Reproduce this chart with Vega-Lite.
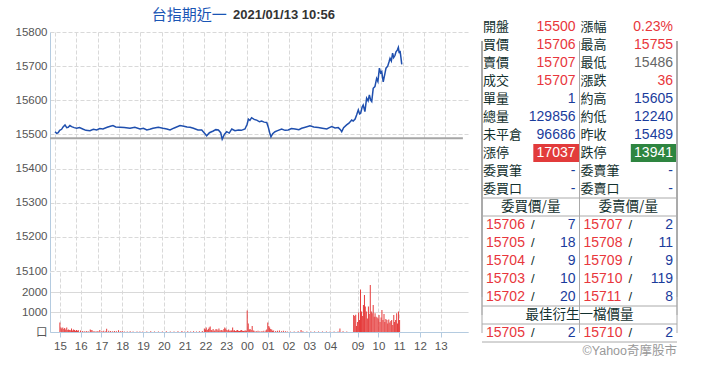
{
  "$schema": "https://vega.github.io/schema/vega-lite/v6.json",
  "background": "white",
  "padding": {"left": 5, "top": 7, "right": 0, "bottom": 0},
  "config": {"view": {"stroke": null}, "font": "Liberation Sans", "axis": {"labelFont": "Liberation Sans, Noto Sans CJK TC"}},
  "datasets": {
    "price": [
      {"h":0.00,"price":15508},{"h":0.08,"price":15503},{"h":0.15,"price":15505},{"h":0.22,"price":15512},{"h":0.31,"price":15515},{"h":0.38,"price":15522},{"h":0.47,"price":15528},{"h":0.55,"price":15520},{"h":0.62,"price":15521},{"h":0.70,"price":15526},{"h":0.78,"price":15523},{"h":0.90,"price":15520},{"h":1.02,"price":15518},{"h":1.15,"price":15520},{"h":1.33,"price":15515},{"h":1.45,"price":15512},{"h":1.64,"price":15511},{"h":1.80,"price":15515},{"h":1.96,"price":15513},{"h":2.10,"price":15517},{"h":2.25,"price":15516},{"h":2.45,"price":15521},{"h":2.60,"price":15524},{"h":2.72,"price":15526},{"h":2.85,"price":15522},{"h":3.05,"price":15521},{"h":3.25,"price":15520},{"h":3.52,"price":15518},{"h":3.75,"price":15521},{"h":3.99,"price":15516},{"h":4.15,"price":15518},{"h":4.31,"price":15513},{"h":4.45,"price":15515},{"h":4.60,"price":15518},{"h":4.85,"price":15521},{"h":5.07,"price":15518},{"h":5.25,"price":15516},{"h":5.40,"price":15513},{"h":5.60,"price":15519},{"h":5.87,"price":15526},{"h":6.05,"price":15524},{"h":6.20,"price":15522},{"h":6.34,"price":15521},{"h":6.50,"price":15518},{"h":6.71,"price":15513},{"h":6.89,"price":15513},{"h":7.00,"price":15505},{"h":7.12,"price":15496},{"h":7.25,"price":15505},{"h":7.43,"price":15510},{"h":7.55,"price":15514},{"h":7.67,"price":15513},{"h":7.78,"price":15505},{"h":7.85,"price":15486},{"h":7.95,"price":15500},{"h":8.06,"price":15508},{"h":8.18,"price":15504},{"h":8.30,"price":15516},{"h":8.45,"price":15511},{"h":8.61,"price":15513},{"h":8.75,"price":15512},{"h":8.92,"price":15516},{"h":9.02,"price":15530},{"h":9.08,"price":15545},{"h":9.15,"price":15541},{"h":9.23,"price":15549},{"h":9.35,"price":15544},{"h":9.47,"price":15542},{"h":9.60,"price":15537},{"h":9.70,"price":15539},{"h":9.82,"price":15536},{"h":9.94,"price":15535},{"h":10.01,"price":15522},{"h":10.08,"price":15505},{"h":10.14,"price":15493},{"h":10.22,"price":15502},{"h":10.33,"price":15508},{"h":10.45,"price":15511},{"h":10.64,"price":15516},{"h":10.80,"price":15512},{"h":10.95,"price":15513},{"h":11.10,"price":15517},{"h":11.27,"price":15516},{"h":11.45,"price":15514},{"h":11.58,"price":15518},{"h":11.75,"price":15521},{"h":11.97,"price":15525},{"h":12.15,"price":15522},{"h":12.36,"price":15520},{"h":12.55,"price":15518},{"h":12.76,"price":15516},{"h":12.88,"price":15520},{"h":12.99,"price":15523},{"h":13.15,"price":15519},{"h":13.30,"price":15520},{"h":13.40,"price":15514},{"h":13.46,"price":15508},{"h":13.55,"price":15520},{"h":13.69,"price":15528},{"h":13.80,"price":15533},{"h":13.93,"price":15542},{"h":14.00,"price":15539},{"h":14.09,"price":15545},{"h":14.16,"price":15557},{"h":14.24,"price":15572},{"h":14.30,"price":15560},{"h":14.35,"price":15562},{"h":14.42,"price":15580},{"h":14.47,"price":15586},{"h":14.55,"price":15567},{"h":14.63,"price":15606},{"h":14.70,"price":15598},{"h":14.76,"price":15616},{"h":14.82,"price":15600},{"h":14.87,"price":15596},{"h":14.94,"price":15635},{"h":15.02,"price":15640},{"h":15.10,"price":15664},{"h":15.16,"price":15655},{"h":15.23,"price":15694},{"h":15.29,"price":15680},{"h":15.34,"price":15684},{"h":15.41,"price":15654},{"h":15.47,"price":15672},{"h":15.54,"price":15694},{"h":15.62,"price":15700},{"h":15.68,"price":15712},{"h":15.73,"price":15723},{"h":15.79,"price":15715},{"h":15.85,"price":15738},{"h":15.90,"price":15725},{"h":15.96,"price":15731},{"h":16.01,"price":15742},{"h":16.07,"price":15747},{"h":16.12,"price":15755},{"h":16.16,"price":15738},{"h":16.20,"price":15745},{"h":16.23,"price":15731},{"h":16.28,"price":15705}
    ],
    "close": [{"close": 15489}],
    "heading": [{"name": "台指期近一", "stamp": "2021/01/13 10:56"}],
    "volume": [
      {"h":0.00,"vol":470},{"h":0.05,"vol":230},{"h":0.09,"vol":180},{"h":0.14,"vol":230},{"h":0.19,"vol":150},{"h":0.23,"vol":200},{"h":0.28,"vol":120},{"h":0.33,"vol":230},{"h":0.38,"vol":100},{"h":0.42,"vol":130},{"h":0.47,"vol":100},{"h":0.52,"vol":90},{"h":0.56,"vol":180},{"h":0.61,"vol":80},{"h":0.66,"vol":120},{"h":0.70,"vol":100},{"h":0.75,"vol":60},{"h":0.80,"vol":100},{"h":0.85,"vol":60},{"h":0.89,"vol":90},{"h":0.99,"vol":70},{"h":1.08,"vol":50},{"h":1.17,"vol":40},{"h":1.27,"vol":50},{"h":1.36,"vol":40},{"h":1.46,"vol":130},{"h":1.50,"vol":100},{"h":1.55,"vol":90},{"h":1.64,"vol":50},{"h":1.74,"vol":40},{"h":1.83,"vol":50},{"h":1.92,"vol":100},{"h":2.02,"vol":50},{"h":2.11,"vol":60},{"h":2.21,"vol":40},{"h":2.25,"vol":160},{"h":2.35,"vol":60},{"h":2.44,"vol":50},{"h":2.54,"vol":40},{"h":2.63,"vol":50},{"h":2.72,"vol":40},{"h":2.82,"vol":90},{"h":2.91,"vol":40},{"h":3.00,"vol":50},{"h":3.10,"vol":30},{"h":3.24,"vol":30},{"h":3.38,"vol":40},{"h":3.52,"vol":30},{"h":3.71,"vol":30},{"h":3.85,"vol":30},{"h":3.99,"vol":30},{"h":4.18,"vol":30},{"h":4.37,"vol":40},{"h":4.55,"vol":30},{"h":4.74,"vol":30},{"h":4.93,"vol":30},{"h":5.12,"vol":40},{"h":5.31,"vol":30},{"h":5.49,"vol":30},{"h":5.68,"vol":40},{"h":5.87,"vol":50},{"h":6.01,"vol":30},{"h":6.15,"vol":40},{"h":6.29,"vol":30},{"h":6.43,"vol":40},{"h":6.57,"vol":30},{"h":6.71,"vol":40},{"h":6.85,"vol":50},{"h":6.95,"vol":180},{"h":7.00,"vol":120},{"h":7.04,"vol":230},{"h":7.09,"vol":100},{"h":7.14,"vol":150},{"h":7.18,"vol":230},{"h":7.23,"vol":270},{"h":7.28,"vol":100},{"h":7.32,"vol":80},{"h":7.37,"vol":150},{"h":7.42,"vol":60},{"h":7.46,"vol":80},{"h":7.51,"vol":150},{"h":7.56,"vol":120},{"h":7.61,"vol":60},{"h":7.65,"vol":170},{"h":7.70,"vol":80},{"h":7.75,"vol":90},{"h":7.79,"vol":100},{"h":7.84,"vol":60},{"h":7.89,"vol":150},{"h":7.93,"vol":230},{"h":7.98,"vol":180},{"h":8.03,"vol":100},{"h":8.08,"vol":80},{"h":8.12,"vol":120},{"h":8.17,"vol":60},{"h":8.22,"vol":70},{"h":8.26,"vol":80},{"h":8.31,"vol":230},{"h":8.36,"vol":70},{"h":8.40,"vol":90},{"h":8.45,"vol":50},{"h":8.50,"vol":70},{"h":8.54,"vol":100},{"h":8.59,"vol":60},{"h":8.64,"vol":50},{"h":8.69,"vol":70},{"h":8.73,"vol":100},{"h":8.78,"vol":60},{"h":8.83,"vol":50},{"h":8.87,"vol":60},{"h":8.92,"vol":80},{"h":8.97,"vol":60},{"h":9.01,"vol":1070},{"h":9.06,"vol":430},{"h":9.11,"vol":120},{"h":9.15,"vol":150},{"h":9.20,"vol":100},{"h":9.25,"vol":300},{"h":9.30,"vol":80},{"h":9.34,"vol":60},{"h":9.44,"vol":50},{"h":9.53,"vol":60},{"h":9.62,"vol":40},{"h":9.72,"vol":50},{"h":9.81,"vol":60},{"h":9.91,"vol":80},{"h":9.95,"vol":130},{"h":10.00,"vol":470},{"h":10.05,"vol":300},{"h":10.09,"vol":230},{"h":10.14,"vol":150},{"h":10.19,"vol":130},{"h":10.23,"vol":60},{"h":10.28,"vol":80},{"h":10.38,"vol":50},{"h":10.47,"vol":60},{"h":10.56,"vol":70},{"h":10.66,"vol":40},{"h":10.75,"vol":60},{"h":10.85,"vol":40},{"h":10.94,"vol":30},{"h":11.08,"vol":30},{"h":11.27,"vol":30},{"h":11.46,"vol":40},{"h":11.60,"vol":100},{"h":11.69,"vol":40},{"h":11.88,"vol":30},{"h":12.07,"vol":30},{"h":12.25,"vol":30},{"h":12.44,"vol":30},{"h":12.63,"vol":30},{"h":12.82,"vol":30},{"h":13.00,"vol":30},{"h":13.19,"vol":30},{"h":13.38,"vol":30},{"h":13.47,"vol":170},{"h":13.62,"vol":40},{"h":13.80,"vol":30},
      {"h":14.13,"vol":850},{"h":14.18,"vol":800},{"h":14.23,"vol":860},{"h":14.27,"vol":300},{"h":14.32,"vol":500},{"h":14.37,"vol":970},{"h":14.41,"vol":600},{"h":14.46,"vol":2130},{"h":14.51,"vol":1020},{"h":14.55,"vol":800},{"h":14.60,"vol":1350},{"h":14.65,"vol":1850},{"h":14.69,"vol":1270},{"h":14.74,"vol":1020},{"h":14.79,"vol":680},{"h":14.84,"vol":1270},{"h":14.88,"vol":900},{"h":14.93,"vol":2350},{"h":14.98,"vol":1020},{"h":15.02,"vol":940},{"h":15.07,"vol":1350},{"h":15.12,"vol":760},{"h":15.16,"vol":940},{"h":15.21,"vol":760},{"h":15.26,"vol":730},{"h":15.31,"vol":680},{"h":15.35,"vol":850},{"h":15.40,"vol":500},{"h":15.45,"vol":730},{"h":15.49,"vol":1100},{"h":15.54,"vol":600},{"h":15.59,"vol":900},{"h":15.63,"vol":500},{"h":15.68,"vol":650},{"h":15.73,"vol":600},{"h":15.77,"vol":430},{"h":15.82,"vol":630},{"h":15.87,"vol":470},{"h":15.92,"vol":550},{"h":15.96,"vol":600},{"h":16.01,"vol":350},{"h":16.06,"vol":850},{"h":16.10,"vol":500},{"h":16.15,"vol":600},{"h":16.20,"vol":940},{"h":16.24,"vol":430},{"h":16.29,"vol":1020},{"h":16.34,"vol":600}
    ],
    "cells": [
      {"row":0,"side":"L","role":"label","text":"開盤"},{"row":0,"side":"L","role":"value","text":"15500","tone":"up"},{"row":0,"side":"R","role":"label","text":"漲幅"},{"row":0,"side":"R","role":"value","text":"0.23%","tone":"up"},
      {"row":1,"side":"L","role":"label","text":"買價"},{"row":1,"side":"L","role":"value","text":"15706","tone":"up"},{"row":1,"side":"R","role":"label","text":"最高"},{"row":1,"side":"R","role":"value","text":"15755","tone":"up"},
      {"row":2,"side":"L","role":"label","text":"賣價"},{"row":2,"side":"L","role":"value","text":"15707","tone":"up"},{"row":2,"side":"R","role":"label","text":"最低"},{"row":2,"side":"R","role":"value","text":"15486","tone":"flat"},
      {"row":3,"side":"L","role":"label","text":"成交"},{"row":3,"side":"L","role":"value","text":"15707","tone":"up"},{"row":3,"side":"R","role":"label","text":"漲跌"},{"row":3,"side":"R","role":"value","text":"36","tone":"up"},
      {"row":4,"side":"L","role":"label","text":"單量"},{"row":4,"side":"L","role":"value","text":"1","tone":"qty"},{"row":4,"side":"R","role":"label","text":"約高"},{"row":4,"side":"R","role":"value","text":"15605","tone":"qty"},
      {"row":5,"side":"L","role":"label","text":"總量"},{"row":5,"side":"L","role":"value","text":"129856","tone":"qty"},{"row":5,"side":"R","role":"label","text":"約低"},{"row":5,"side":"R","role":"value","text":"12240","tone":"qty"},
      {"row":6,"side":"L","role":"label","text":"未平倉"},{"row":6,"side":"L","role":"value","text":"96686","tone":"qty"},{"row":6,"side":"R","role":"label","text":"昨收"},{"row":6,"side":"R","role":"value","text":"15489","tone":"qty"},
      {"row":7,"side":"L","role":"label","text":"漲停"},{"row":7,"side":"L","role":"value","text":"17037","tone":"white","box":"limitup"},{"row":7,"side":"R","role":"label","text":"跌停"},{"row":7,"side":"R","role":"value","text":"13941","tone":"white","box":"limitdown"},
      {"row":8,"side":"L","role":"label","text":"委買筆"},{"row":8,"side":"L","role":"value","text":"-","tone":"qty"},{"row":8,"side":"R","role":"label","text":"委賣筆"},{"row":8,"side":"R","role":"value","text":"-","tone":"qty"},
      {"row":9,"side":"L","role":"label","text":"委買口"},{"row":9,"side":"L","role":"value","text":"-","tone":"qty"},{"row":9,"side":"R","role":"label","text":"委賣口"},{"row":9,"side":"R","role":"value","text":"-","tone":"qty"},
      {"row":10,"side":"L","role":"head","text":"委買價/量"},{"row":10,"side":"R","role":"head","text":"委賣價/量"},
      {"row":11,"side":"L","role":"book","text":"15706","qty":"7"},{"row":11,"side":"R","role":"book","text":"15707","qty":"2"},
      {"row":12,"side":"L","role":"book","text":"15705","qty":"18"},{"row":12,"side":"R","role":"book","text":"15708","qty":"11"},
      {"row":13,"side":"L","role":"book","text":"15704","qty":"9"},{"row":13,"side":"R","role":"book","text":"15709","qty":"9"},
      {"row":14,"side":"L","role":"book","text":"15703","qty":"10"},{"row":14,"side":"R","role":"book","text":"15710","qty":"119"},
      {"row":15,"side":"L","role":"book","text":"15702","qty":"20"},{"row":15,"side":"R","role":"book","text":"15711","qty":"8"},
      {"row":16,"side":"R","role":"span","text":"最佳衍生一檔價量"},
      {"row":17,"side":"L","role":"book","text":"15705","qty":"2"},{"row":17,"side":"R","role":"book","text":"15710","qty":"2"},
      {"row":18,"side":"R","role":"credit","text":"©Yahoo奇摩股市"}
    ],
    "lines": [{"row":10},{"row":11},{"row":16},{"row":17},{"row":18}],
    "frame": [
      {"row":10,"side":"L","edge":"start"},{"row":11,"side":"L","edge":"start"},{"row":12,"side":"L","edge":"start"},{"row":13,"side":"L","edge":"start"},{"row":14,"side":"L","edge":"start"},{"row":15,"side":"L","edge":"start"},{"row":16,"side":"L","edge":"start"},{"row":17,"side":"L","edge":"start"},
      {"row":10,"side":"R","edge":"start"},{"row":11,"side":"R","edge":"start"},{"row":12,"side":"R","edge":"start"},{"row":13,"side":"R","edge":"start"},{"row":14,"side":"R","edge":"start"},{"row":15,"side":"R","edge":"start"},{"row":17,"side":"R","edge":"start"},
      {"row":10,"side":"R","edge":"end"},{"row":11,"side":"R","edge":"end"},{"row":12,"side":"R","edge":"end"},{"row":13,"side":"R","edge":"end"},{"row":14,"side":"R","edge":"end"},{"row":15,"side":"R","edge":"end"},{"row":16,"side":"R","edge":"end"},{"row":17,"side":"R","edge":"end"}
    ]
  },
  "spacing": 13,
  "hconcat": [
    {
      "spacing": 1,
      "bounds": "flush",
      "vconcat": [
        {
          "width": 418,
          "height": 239,
          "layer": [
            {
              "data": {"name": "close"},
              "mark": {"type": "rule", "color": "#a6a6a6", "strokeWidth": 2},
              "encoding": {
                "y": {"field": "close", "type": "quantitative",
                  "scale": {"domain": [15100, 15800], "nice": false, "zero": false},
                  "axis": {"values": [15100,15200,15300,15400,15500,15600,15700,15800], "tickCount": 20, "format": "d", "title": null, "ticks": false, "labelPadding": 3, "labelColor": "#555555", "labelFontSize": 11.5, "labelOverlap": false, "domainColor": "#b4cbe0", "gridColor": "#d9d9d9", "gridDash": [4,2], "minExtent": 45, "maxExtent": 45}},
                "x": {"datum": -0.235},
                "x2": {"datum": 19.15}
              }
            },
            {
              "data": {"name": "price"},
              "mark": {"type": "line", "color": "#1f4fae", "strokeWidth": 1.5},
              "encoding": {
                "x": {"field": "h", "type": "quantitative",
                  "scale": {"domain": [-0.235, 19.39], "nice": false, "zero": false},
                  "axis": {"values": [0,1,2,3,4,5,6,7,8,9,10,11,12,13,14.32,15.32,16.32,17.32,18.32], "tickCount": 40, "labels": false, "ticks": false, "domain": false, "title": null, "grid": true, "gridColor": "#d9d9d9", "gridDash": [4,2], "minExtent": 0, "maxExtent": 0}},
                "y": {"field": "price", "type": "quantitative",
                  "scale": {"domain": [15100, 15800], "nice": false, "zero": false},
                  "axis": {"values": [15100,15200,15300,15400,15500,15600,15700,15800], "tickCount": 20, "format": "d", "title": null, "ticks": false, "labelPadding": 3, "labelColor": "#555555", "labelFontSize": 11.5, "labelOverlap": false, "domainColor": "#b4cbe0", "gridColor": "#d9d9d9", "gridDash": [4,2], "minExtent": 45, "maxExtent": 45}}
              }
            },
            {
              "data": {"name": "heading"},
              "mark": {"type": "text", "align": "right", "baseline": "middle", "font": "Noto Sans CJK TC", "fontSize": 15, "color": "#1a55b5"},
              "encoding": {"text": {"field": "name"}, "x": {"datum": 8.06}, "y": {"datum": 15850}}
            },
            {
              "data": {"name": "heading"},
              "mark": {"type": "text", "align": "left", "baseline": "middle", "font": "Liberation Sans", "fontSize": 13, "fontWeight": "bold", "color": "#333333"},
              "encoding": {"text": {"field": "stamp"}, "x": {"datum": 8.36}, "y": {"datum": 15850}}
            }
          ]
        },
        {
          "width": 418,
          "height": 60,
          "data": {"name": "volume"},
          "mark": {"type": "bar", "width": 1, "color": "#e53b3b"},
          "encoding": {
            "x": {"field": "h", "type": "quantitative",
              "scale": {"domain": [-0.235, 19.39], "nice": false, "zero": false},
              "axis": {"values": [0,1,2,3,4,5,6,7,8,9,10,11,12,13,14.32,15.32,16.32,17.32,18.32], "tickCount": 40, "title": null,
                "labelExpr": "datum.value < 13.5 ? pad(toString((15 + datum.value) % 24), 2, '0', 'left') : pad(toString(round(datum.value - 5.32)), 2, '0', 'left')",
                "labelFlush": false, "labelOverlap": false, "labelFontSize": 11.5, "labelColor": "#555555", "labelPadding": 3,
                "grid": true, "gridColor": "#d9d9d9", "gridDash": [4,2], "domainColor": "#b4cbe0", "tickColor": "#b4cbe0", "tickSize": 5}},
            "y": {"field": "vol", "type": "quantitative",
              "scale": {"domain": [0, 3000], "nice": false},
              "axis": {"values": [0,1000,2000], "tickCount": 10, "format": "d", "title": null, "ticks": false, "labelPadding": 3,
                "labelExpr": "datum.value == 0 ? '口' : datum.label", "labelColor": "#555555", "labelFontSize": 11.5, "labelOverlap": false,
                "gridColor": "#d9d9d9", "domainColor": "#b4cbe0", "minExtent": 45, "maxExtent": 45}}
          }
        }
      ]
    },
    {
      "width": 195,
      "height": 360,
      "layer": [
        {
          "data": {"name": "cells"},
          "transform": [{"filter": "datum.box != null"}],
          "mark": {"type": "rect", "yOffset": -23, "y2Offset": -23},
          "encoding": {
            "x": {"field": "side", "type": "nominal", "scale": {"type": "band", "domain": ["L","R"], "paddingInner": 0, "paddingOuter": 0}, "axis": null},
            "xOffset": {"datum": "b", "scale": {"domain": ["a","b"], "paddingInner": 0.1, "paddingOuter": 0}},
            "y": {"field": "row", "type": "ordinal", "scale": {"type": "band", "domain": [0,1,2,3,4,5,6,7,8,9,10,11,12,13,14,15,16,17,18], "paddingInner": 0, "paddingOuter": 0.5}, "axis": null},
            "fill": {"field": "box", "type": "nominal", "scale": {"domain": ["limitup","limitdown"], "range": ["#e23b3b","#2e8540"]}, "legend": null}
          }
        },
        {
          "data": {"name": "lines"},
          "mark": {"type": "rule", "color": "#aaaaaa", "strokeWidth": 1, "yOffset": -23},
          "encoding": {
            "y": {"field": "row", "type": "ordinal", "bandPosition": 0}
          }
        },
        {
          "data": {"name": "frame"},
          "transform": [{"filter": "datum.edge == 'start'"}],
          "mark": {"type": "rule", "orient": "vertical", "color": "#aaaaaa", "strokeWidth": 1, "yOffset": -23, "y2Offset": -23},
          "encoding": {
            "x": {"field": "side", "type": "nominal", "bandPosition": 0},
            "y": {"field": "row", "type": "ordinal"}
          }
        },
        {
          "data": {"name": "frame"},
          "transform": [{"filter": "datum.edge == 'end'"}],
          "mark": {"type": "rule", "orient": "vertical", "color": "#aaaaaa", "strokeWidth": 1, "yOffset": -23, "y2Offset": -23},
          "encoding": {
            "x": {"field": "side", "type": "nominal", "bandPosition": 1},
            "y": {"field": "row", "type": "ordinal"}
          }
        },
        {
          "data": {"name": "cells"},
          "transform": [{"filter": "datum.role == 'label'"}],
          "mark": {"type": "text", "align": "left", "baseline": "middle", "dx": 1, "dy": -23, "font": "Noto Sans CJK TC", "fontSize": 13, "color": "#12302e"},
          "encoding": {
            "x": {"field": "side", "type": "nominal", "bandPosition": 0},
            "y": {"field": "row", "type": "ordinal"},
            "text": {"field": "text"}
          }
        },
        {
          "data": {"name": "cells"},
          "transform": [{"filter": "datum.role == 'value'"}],
          "mark": {"type": "text", "align": "right", "baseline": "middle", "dx": -4, "dy": -23, "font": "Liberation Sans, Noto Sans CJK TC", "fontSize": 14},
          "encoding": {
            "x": {"field": "side", "type": "nominal", "bandPosition": 1},
            "y": {"field": "row", "type": "ordinal"},
            "text": {"field": "text"},
            "color": {"field": "tone", "type": "nominal", "scale": {"domain": ["up","qty","flat","white"], "range": ["#e8363c","#1a3c9c","#666666","#ffffff"]}, "legend": null}
          }
        },
        {
          "data": {"name": "cells"},
          "transform": [{"filter": "datum.role == 'head'"}],
          "mark": {"type": "text", "align": "center", "baseline": "middle", "dy": -23, "font": "Noto Sans CJK TC", "fontSize": 13.5, "color": "#12302e"},
          "encoding": {
            "x": {"field": "side", "type": "nominal", "bandPosition": 0.5},
            "y": {"field": "row", "type": "ordinal"},
            "text": {"field": "text"}
          }
        },
        {
          "data": {"name": "cells"},
          "transform": [{"filter": "datum.role == 'span'"}],
          "mark": {"type": "text", "align": "center", "baseline": "middle", "dy": -23, "font": "Noto Sans CJK TC", "fontSize": 13.5, "color": "#12302e"},
          "encoding": {
            "x": {"field": "side", "type": "nominal", "bandPosition": 0},
            "y": {"field": "row", "type": "ordinal"},
            "text": {"field": "text"}
          }
        },
        {
          "data": {"name": "cells"},
          "transform": [{"filter": "datum.role == 'book'"}],
          "mark": {"type": "text", "align": "left", "baseline": "middle", "dx": 4, "dy": -23, "font": "Liberation Sans", "fontSize": 14, "color": "#e8363c"},
          "encoding": {
            "x": {"field": "side", "type": "nominal", "bandPosition": 0},
            "y": {"field": "row", "type": "ordinal"},
            "text": {"field": "text"}
          }
        },
        {
          "data": {"name": "cells"},
          "transform": [{"filter": "datum.role == 'book'"}],
          "mark": {"type": "text", "align": "center", "baseline": "middle", "dy": -23, "font": "Liberation Sans", "fontSize": 13, "color": "#12302e"},
          "encoding": {
            "x": {"field": "side", "type": "nominal", "bandPosition": 0.52},
            "y": {"field": "row", "type": "ordinal"},
            "text": {"value": "/"}
          }
        },
        {
          "data": {"name": "cells"},
          "transform": [{"filter": "datum.role == 'book'"}],
          "mark": {"type": "text", "align": "right", "baseline": "middle", "dx": -4, "dy": -23, "font": "Liberation Sans", "fontSize": 14, "color": "#1a3c9c"},
          "encoding": {
            "x": {"field": "side", "type": "nominal", "bandPosition": 1},
            "y": {"field": "row", "type": "ordinal"},
            "text": {"field": "qty"}
          }
        },
        {
          "data": {"name": "cells"},
          "transform": [{"filter": "datum.role == 'credit'"}],
          "mark": {"type": "text", "align": "right", "baseline": "middle", "dy": -23, "font": "Liberation Sans, Noto Sans CJK TC", "fontSize": 12.5, "color": "#999999"},
          "encoding": {
            "x": {"field": "side", "type": "nominal", "bandPosition": 1},
            "y": {"field": "row", "type": "ordinal"},
            "text": {"field": "text"}
          }
        }
      ]
    }
  ]
}
